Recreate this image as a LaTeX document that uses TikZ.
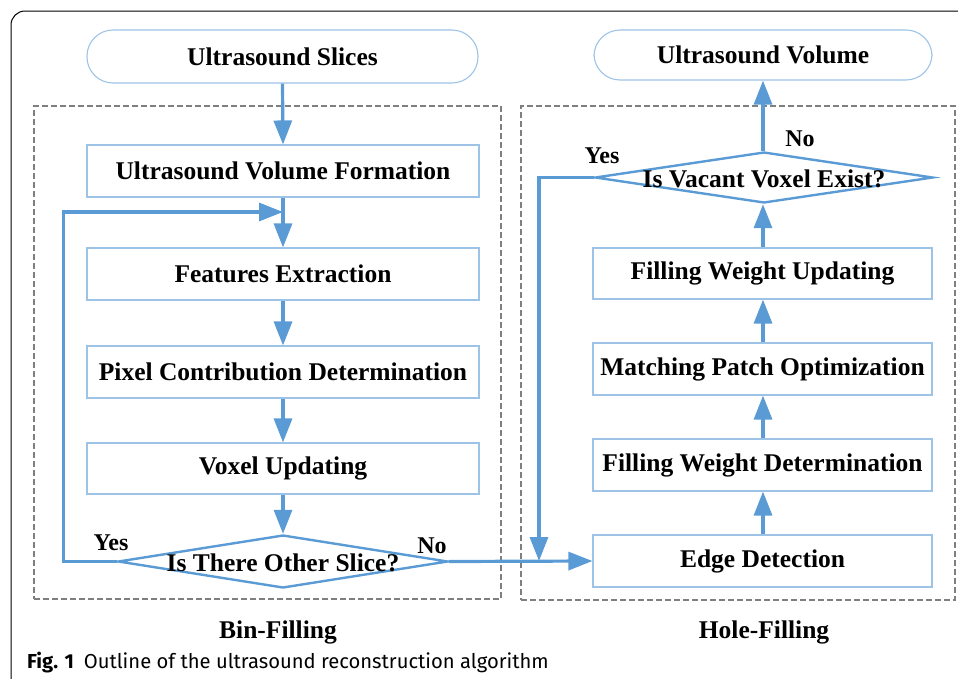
\documentclass[tikz,border=0pt]{standalone}
\usepackage{fontspec}
\setmainfont{Liberation Serif}
\newfontfamily\capfont{Fira Sans}
\usetikzlibrary{arrows.meta,shapes.geometric}
\definecolor{boxblue}{HTML}{9DC3E6}
\definecolor{arrblue}{HTML}{5B9BD5}
\definecolor{dashgrey}{HTML}{7F7F7F}
\tikzset{
  procbox/.style={draw=boxblue, line width=1.1pt, rectangle, inner sep=0pt, font=\bfseries\fontsize{25.5}{30}\selectfont},
  termbox/.style={procbox, rounded corners=26pt},
  decbox/.style={draw=arrblue, line width=2.4pt, diamond, inner sep=0pt},
  dectext/.style={font=\bfseries\fontsize{25.5}{30}\selectfont, inner sep=0pt},
  lbl/.style={font=\bfseries\fontsize{24}{28}\selectfont, inner sep=0pt},
  arr/.style={draw=arrblue, line width=3.2pt, -{Triangle[length=24pt,width=18pt]}},
  group/.style={draw=dashgrey, line width=1.2pt, dash pattern=on 6pt off 3pt},
}
\begin{document}
\begin{tikzpicture}[x=1pt,y=-1pt]
\useasboundingbox (0,0) rectangle (958,678);
\clip (0,0) rectangle (958,678);
% outer frame
\draw[black, line width=1pt, rounded corners=14pt] (11,700) -- (11,11) -- (980,11);
% groups
\node[group, rectangle, minimum width=467pt, minimum height=493pt, inner sep=0pt] (gl) at (267.5,352.5) {};
\node[group, rectangle, minimum width=434pt, minimum height=494pt, inner sep=0pt] (gr) at (738,353) {};
% left column
\node[termbox, minimum width=391pt, minimum height=53pt] (s) at (282.5,56.5) {Ultrasound Slices};
\node[procbox, minimum width=392pt, minimum height=52pt] (v1) at (283,171) {Ultrasound Volume Formation};
\node[procbox, minimum width=392pt, minimum height=52pt] (f) at (283,274) {Features Extraction};
\node[procbox, minimum width=392pt, minimum height=52pt] (p) at (283,372) {Pixel Contribution Determination};
\node[procbox, minimum width=392pt, minimum height=51pt] (vu) at (283,468.5) {Voxel Updating};
\node[decbox, minimum width=330pt, minimum height=53pt] (d1) at (283,561.5) {};
\node[dectext] (d1t) at (283,563) {Is There Other Slice?};
% right column
\node[termbox, minimum width=338pt, minimum height=50pt] (uv) at (763,55) {Ultrasound Volume};
\node[decbox, minimum width=338pt, minimum height=51pt] (d2) at (764,177.5) {};
\node[dectext] (d2t) at (764,179) {Is Vacant Voxel Exist?};
\node[procbox, minimum width=339pt, minimum height=51pt] (fwu) at (762.5,273.5) {Filling Weight Updating};
\node[procbox, minimum width=339pt, minimum height=52pt] (mpo) at (762.5,369) {Matching Patch Optimization};
\node[procbox, minimum width=339pt, minimum height=52pt] (fwd) at (762.5,465) {Filling Weight Determination};
\node[procbox, minimum width=339pt, minimum height=52pt] (e) at (762.5,561) {Edge Detection};
% left arrows
\draw[arr] (s.south) -- (v1.north);
\draw[arr] (v1.south) -- (f.north);
\coordinate (j1) at (283,212);
\draw[arr] (d1.west) -- ++(-53,0) |- (j1);
\draw[arr] (f.south) -- (p.north);
\draw[arr] (p.south) -- (vu.north);
\draw[arr] (vu.south) -- (d1.north);
\draw[arr] (d1.east) -- (e.west);
% right arrows
\coordinate (rx) at (763,0);
\draw[arr] (e.north -| rx) -- (fwd.south -| rx);
\draw[arr] (fwd.north -| rx) -- (mpo.south -| rx);
\draw[arr] (mpo.north -| rx) -- (fwu.south -| rx);
\draw[arr] (fwu.north -| rx) -- (d2.south -| rx);
\draw[arr] (d2.north -| rx) -- (uv.south -| rx);
\coordinate (j2) at (539,561);
\draw[arr] (d2.west) -| (j2);
% labels
\node[lbl] (y1) at (111,543) {Yes};
\node[lbl] (n1) at (432,546) {No};
\node[lbl] (y2) at (602,156) {Yes};
\node[lbl] (n2) at (800,139) {No};
\node[font=\bfseries\fontsize{25.5}{30}\selectfont] (bf) at (278,632) {Bin-Filling};
\node[font=\bfseries\fontsize{25.5}{30}\selectfont] (hf) at (764,632) {Hole-Filling};
\node[anchor=base west, inner sep=0pt, font=\capfont\fontsize{20.2}{24}\selectfont] (cap) at (27,668) {\textbf{Fig. 1}\hspace{0.5em}Outline of the ultrasound reconstruction algorithm};
\end{tikzpicture}
\end{document}
